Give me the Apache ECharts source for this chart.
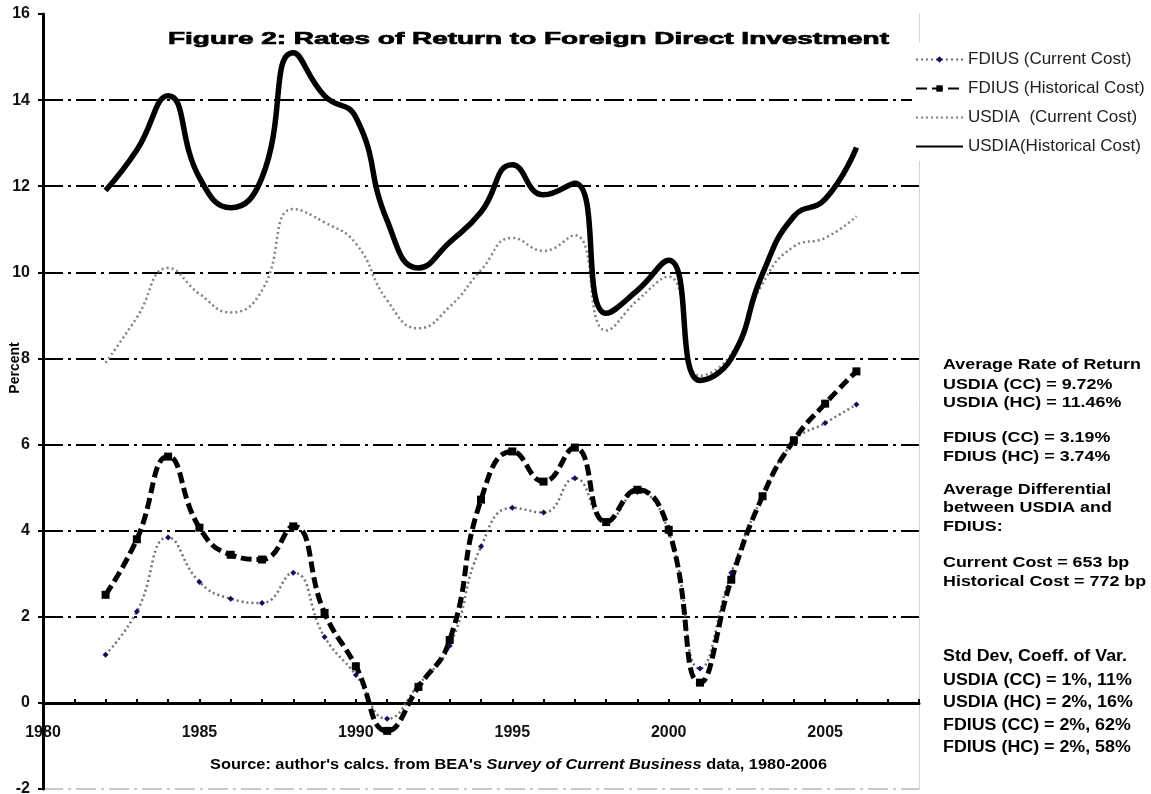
<!DOCTYPE html>
<html>
<head>
<meta charset="utf-8">
<script src="https://cdn.jsdelivr.net/npm/echarts@6/dist/echarts.min.js"></script>
<style>
html,body{margin:0;padding:0;background:#fff;}
#chart{width:1151px;height:794px;}
</style>
</head>
<body>
<div id="chart"></div>
<script>
// ---- data ----
const years = [1982,1983,1984,1985,1986,1987,1988,1989,1990,1991,1992,1993,1994,1995,1996,1997,1998,1999,2000,2001,2002,2003,2004,2005,2006];
const fdiusCC = [1.12,2.12,3.84,2.81,2.42,2.32,3.02,1.53,0.65,-0.37,0.42,1.33,3.63,4.53,4.42,5.22,4.2,4.9,3.97,0.8,3.02,4.8,6.07,6.5,6.93];
const fdiusHC = [2.51,3.8,5.72,4.07,3.44,3.33,4.1,2.09,0.85,-0.65,0.37,1.46,4.72,5.84,5.14,5.93,4.2,4.95,4.02,0.47,2.86,4.8,6.1,6.95,7.7];
const usdiaCC = [7.9,8.95,10.1,9.5,9.07,9.58,11.47,11.16,10.67,9.35,8.7,9.2,10.05,10.8,10.5,10.86,8.65,9.35,9.9,7.6,8.1,9.74,10.6,10.8,11.3];
const usdiaHC = [11.9,12.84,14.1,12.2,11.5,12.2,15.1,14.1,13.6,11.2,10.1,10.7,11.4,12.5,11.8,12.07,9.05,9.58,10.28,7.49,8.0,9.97,11.3,11.7,12.9];
const seriesNames = ['FDIUS (Current Cost)','FDIUS (Historical Cost)','USDIA  (Current Cost)','USDIA(Historical Cost)'];
const titleText = 'Figure 2: Rates of Return to Foreign Direct Investment';
const sourceParts = ["Source: author's calcs. from BEA's ", 'Survey of Current Business', ' data, 1980-2006'];
const yAxisName = 'Percent';
const notes1 = ['Average Rate of Return','USDIA (CC) = 9.72%','USDIA (HC) = 11.46%','','FDIUS (CC) = 3.19%','FDIUS (HC) = 3.74%','','Average Differential','between USDIA and','FDIUS:','','Current Cost = 653 bp','Historical Cost = 772 bp'];
const notes2 = ['Std Dev, Coeff. of Var.','USDIA (CC) = 1%, 11%','USDIA (HC) = 2%, 16%','FDIUS (CC) = 2%, 62%','FDIUS (HC) = 2%, 58%'];

// ---- helpers ----
const FF = '"Liberation Sans", Arial, sans-serif';
const mctx = document.createElement('canvas').getContext('2d');
function tw(str, font){ mctx.font = font; return mctx.measureText(str).width; }
function pairs(vals){ return years.map((y,i)=>[y, vals[i]]); }

const titleFont = 'bold 17px ' + FF;
const titleScale = 721 / tw(titleText, titleFont);
const srcW = tw(sourceParts[0], 'bold 15px ' + FF) + tw(sourceParts[1], 'italic bold 15px ' + FF) + tw(sourceParts[2], 'bold 15px ' + FF);
const srcScale = 617 / srcW;
const n1Scale = 198 / tw(notes1[0], 'bold 15px ' + FF);
const n2Scale = 184 / tw(notes2[0], 'bold 16px ' + FF);

const notes1Y = [365,385,403,0,438,457,0,490,508,527,0,563,582];
const notes2Y = [657,681,703,726,748];

const graphics = [];
graphics.push({type:'text', x:168, y:39, scaleX:titleScale, z:10,
  style:{text:titleText, x:0, y:0, fontSize:17, fontWeight:'bold', fontFamily:FF, fill:'#000',
    stroke:'#000', lineWidth:0.7, textVerticalAlign:'middle'}});
graphics.push({type:'text', x:210, y:765, scaleX:srcScale, z:10,
  style:{text:'{b|'+sourceParts[0]+'}{i|'+sourceParts[1]+'}{b|'+sourceParts[2]+'}', x:0, y:0, textVerticalAlign:'middle',
    rich:{b:{fontSize:15, fontWeight:'bold', fontFamily:FF, fill:'#000'}, i:{fontSize:15, fontWeight:'bold', fontStyle:'italic', fontFamily:FF, fill:'#000'}}}});
graphics.push({type:'text', x:15, y:368, rotation:Math.PI/2, z:10,
  style:{text:yAxisName, fontSize:14, fontWeight:'bold', fontFamily:FF, fill:'#000', textAlign:'center', textVerticalAlign:'middle'}});
notes1.forEach((t,i)=>{ if(!t) return;
  graphics.push({type:'text', x:943, y:notes1Y[i], scaleX:n1Scale, z:10,
    style:{text:t, fontSize:15, fontWeight:'bold', fontFamily:FF, fill:'#000', textVerticalAlign:'middle'}});
});
notes2.forEach((t,i)=>{
  graphics.push({type:'text', x:943, y:notes2Y[i], scaleX:n2Scale, z:10,
    style:{text:t, fontSize:16, fontWeight:'bold', fontFamily:FF, fill:'#000', textVerticalAlign:'middle'}});
});

const dashDot = [20,5,3,5];
const chart = echarts.init(document.getElementById('chart'), null, {renderer:'canvas'});
chart.setOption({
  animation:false,
  backgroundColor:'#fff',
  grid:{left:43, right:232, top:14, bottom:5, containLabel:false, outerBoundsMode:'none'},
  legend:{
    data:[
      {name:seriesNames[0]},
      {name:seriesNames[1]},
      {name:seriesNames[2], itemStyle:{opacity:0}},
      {name:seriesNames[3], itemStyle:{opacity:0}}
    ],
    orient:'vertical', left:912, top:42,
    padding:[9,6,6,3], itemWidth:47, itemHeight:8, itemGap:12,
    backgroundColor:'#fff', z:20,
    textStyle:{fontSize:17, fontFamily:FF, color:'#222'}
  },
  xAxis:{
    type:'value', min:1980, max:2008, interval:1, position:'bottom', offset:-86,
    axisLine:{show:true, onZero:false, lineStyle:{color:'#000', width:3}},
    axisTick:{show:true, inside:true, length:4, lineStyle:{color:'#000', width:2}},
    axisLabel:{margin:22, fontSize:16, fontWeight:'bold', fontFamily:FF, color:'#111',
      formatter:v=> (v % 5 === 0 && v < 2008) ? String(v) : ''},
    splitLine:{show:false}
  },
  yAxis:[{
    type:'value', min:-2, max:16, interval:2, position:'left',
    axisLine:{show:true, onZero:false, lineStyle:{color:'#000', width:3}},
    axisTick:{show:true, inside:false, length:5, lineStyle:{color:'#000', width:2}},
    axisLabel:{margin:13, fontSize:16, fontWeight:'bold', fontFamily:FF, color:'#111'},
    splitLine:{show:true, lineStyle:{
      color:['#c8c8c8','rgba(0,0,0,0)','#000','#000','#000','#000','#000','#000','#000','rgba(0,0,0,0)'],
      width:2, type:dashDot}}
  },{
    type:'value', min:-2, max:16, interval:2, position:'right',
    axisLine:{show:true, onZero:false, lineStyle:{color:'#d4d4d4', width:1}},
    axisTick:{show:false}, axisLabel:{show:false}, splitLine:{show:false}
  }],
  series:[
    {name:seriesNames[0], type:'line', data:pairs(fdiusCC), smooth:0.5,
     symbol:'diamond', symbolSize:6, showSymbol:true,
     itemStyle:{color:'#10105a'},
     lineStyle:{color:'#707070', width:2.5, type:[2,3]}},
    {name:seriesNames[1], type:'line', data:pairs(fdiusHC), smooth:0.5,
     symbol:'rect', symbolSize:8, showSymbol:true,
     itemStyle:{color:'#000'},
     lineStyle:{color:'#000', width:5, type:[11,5]}},
    {name:seriesNames[2], type:'line', data:pairs(usdiaCC), smooth:0.5,
     symbol:'none',
     itemStyle:{color:'#808080'},
     lineStyle:{color:'#808080', width:2.5, type:[2,3]}},
    {name:seriesNames[3], type:'line', data:pairs(usdiaHC), smooth:0.5,
     symbol:'none',
     itemStyle:{color:'#000'},
     lineStyle:{color:'#000', width:5.5, type:'solid'}}
  ],
  graphic:graphics
});
</script>
</body>
</html>
